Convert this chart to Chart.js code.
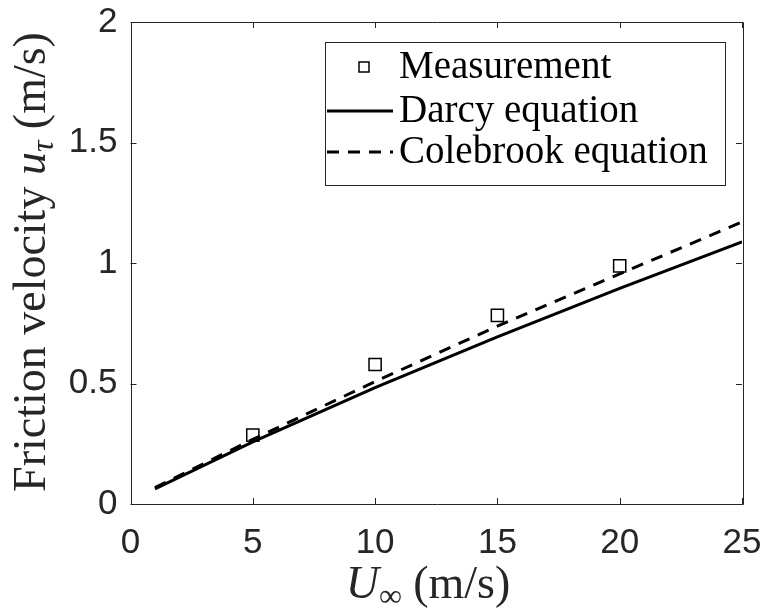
<!DOCTYPE html>
<html>
<head>
<meta charset="utf-8">
<script src="https://cdn.jsdelivr.net/npm/chart.js@4"></script>
<style>
  html, body { margin: 0; padding: 0; background: #fff; }
  #wrap { width: 767px; height: 611px; }
</style>
</head>
<body>
<div id="wrap"><canvas id="frictionChart" width="767" height="611"></canvas></div>
<script>
// values
const lineX = [1, 5, 10, 15, 20, 25];
const darcyValues = [0.063, 0.258, 0.483, 0.693, 0.895, 1.088];
const colebrookValues = [0.068, 0.268, 0.508, 0.738, 0.955, 1.170];
const measX = [5, 10, 15, 20];
const measValues = [0.286, 0.579, 0.783, 0.988];
const seriesLabels = ['Measurement', 'Darcy equation', 'Colebrook equation'];
const xRange = [0, 25], xStep = 5;
const yRange = [0, 2], yStep = 0.5;

const axisColor = '#262626';
const toPoints = (xs, ys) => xs.map((x, i) => ({x: x, y: ys[i]}));

// draws a run of text pieces (different fonts, offsets) centered on x
function drawRich(ctx, parts, cx, baseY) {
    let total = 0;
    parts.forEach(p => { ctx.font = p.font; p.w = ctx.measureText(p.t).width; total += p.w; });
    let x = cx - total / 2;
    parts.forEach(p => {
        ctx.font = p.font;
        ctx.fillText(p.t, x, baseY + (p.dy || 0));
        x += p.w;
    });
}

const frameAndTitles = {
    id: 'frameAndTitles',
    afterDraw(chart) {
        const ctx = chart.ctx;
        const a = chart.chartArea;
        const xs = chart.scales.x, ys = chart.scales.y;
        ctx.save();
        ctx.strokeStyle = axisColor;
        ctx.lineWidth = 1;
        ctx.beginPath();
        ctx.rect(Math.round(a.left) + 0.5, Math.round(a.top) + 0.5,
                 Math.round(a.right - a.left), Math.round(a.bottom - a.top));
        const tl = 6;
        xs.ticks.forEach(t => {
            const px = Math.round(xs.getPixelForValue(t.value)) + 0.5;
            ctx.moveTo(px, a.bottom); ctx.lineTo(px, a.bottom - tl);
            ctx.moveTo(px, a.top); ctx.lineTo(px, a.top + tl);
        });
        ys.ticks.forEach(t => {
            const py = Math.round(ys.getPixelForValue(t.value)) + 0.5;
            ctx.moveTo(a.left, py); ctx.lineTo(a.left + tl, py);
            ctx.moveTo(a.right, py); ctx.lineTo(a.right - tl, py);
        });
        ctx.stroke();

        // axis titles
        ctx.fillStyle = axisColor;
        ctx.textBaseline = 'alphabetic';
        const fs = 46;
        const up = fs + 'px "Liberation Serif"';
        const it = 'italic ' + fs + 'px "Liberation Serif"';
        const sub = 'italic ' + Math.round(fs * 0.7) + 'px "Liberation Serif"';
        drawRich(ctx, [
            {t: 'U', font: it},
            {t: '\u221E', font: Math.round(fs * 0.7) + 'px "Liberation Serif"', dy: 8},
            {t: ' (m/s)', font: up}
        ], 428, 598);

        ctx.translate(45, 262);
        ctx.rotate(-Math.PI / 2);
        drawRich(ctx, [
            {t: 'Friction velocity ', font: up},
            {t: 'u', font: it},
            {t: '\u03C4', font: sub, dy: 8},
            {t: ' (m/s)', font: up}
        ], 0, 0);
        ctx.restore();

        // legend box
        ctx.save();
        const box = {x: 325.5, y: 42.5, w: 400, h: 143};
        ctx.fillStyle = '#fff';
        ctx.fillRect(box.x, box.y, box.w, box.h);
        ctx.strokeStyle = axisColor;
        ctx.lineWidth = 1;
        ctx.strokeRect(box.x, box.y, box.w, box.h);
        const rows = [67, 111, 152];
        const ds = chart.data.datasets;
        ctx.strokeStyle = '#000';
        // marker row
        ctx.lineWidth = 1.5;
        ctx.strokeRect(364 - 5, rows[0] - 5, 10, 10);
        // line rows
        [1, 2].forEach(i => {
            ctx.beginPath();
            ctx.lineWidth = ds[i].borderWidth;
            ctx.setLineDash(ds[i].borderDash || []);
            ctx.moveTo(327, rows[i]);
            ctx.lineTo(393, rows[i]);
            ctx.stroke();
        });
        ctx.setLineDash([]);
        ctx.fillStyle = '#000';
        ctx.font = '39px "Liberation Serif"';
        ctx.textBaseline = 'middle';
        [0, 1, 2].forEach(i => ctx.fillText(seriesLabels[i], 399, rows[i] + 1));
        ctx.restore();
    }
};

const noOverhang = s => {
    s.paddingTop = 0; s.paddingBottom = 0;
    s.paddingLeft = 0; s.paddingRight = 0;
};

const ctx = document.getElementById('frictionChart').getContext('2d');
const frictionChart = new Chart(ctx, {
    type: 'line',
    data: {
        datasets: [{
            label: seriesLabels[0],
            data: toPoints(measX, measValues),
            showLine: false,
            pointStyle: 'rect',
            pointRadius: 8.6,
            pointBorderWidth: 1.5,
            pointBorderColor: '#000',
            pointBackgroundColor: 'rgba(0,0,0,0)',
            order: 3
        }, {
            label: seriesLabels[1],
            data: toPoints(lineX, darcyValues),
            borderColor: '#000',
            borderWidth: 3,
            pointRadius: 0,
            fill: false,
            order: 2
        }, {
            label: seriesLabels[2],
            data: toPoints(lineX, colebrookValues),
            borderColor: '#000',
            borderWidth: 3,
            borderDash: [12, 9],
            pointRadius: 0,
            fill: false,
            order: 1
        }]
    },
    options: {
        responsive: false,
        animation: false,
        layout: { padding: { left: 0, top: 22, right: 25, bottom: 0 } },
        plugins: { legend: { display: false }, tooltip: { enabled: false } },
        scales: {
            x: {
                type: 'linear',
                min: xRange[0], max: xRange[1],
                ticks: { stepSize: xStep, color: axisColor, padding: 18,
                         font: { family: '"Liberation Sans"', size: 35 } },
                grid: { display: false, drawTicks: false },
                border: { display: false },
                afterFit: s => { s.height = 107; noOverhang(s); }
            },
            y: {
                min: yRange[0], max: yRange[1],
                ticks: { stepSize: yStep, color: axisColor, padding: 13,
                         callback: v => String(v),
                         font: { family: '"Liberation Sans"', size: 35 } },
                grid: { display: false, drawTicks: false },
                border: { display: false },
                afterFit: s => { s.width = 130.5; noOverhang(s); }
            }
        }
    },
    plugins: [frameAndTitles]
});
</script>
</body>
</html>
